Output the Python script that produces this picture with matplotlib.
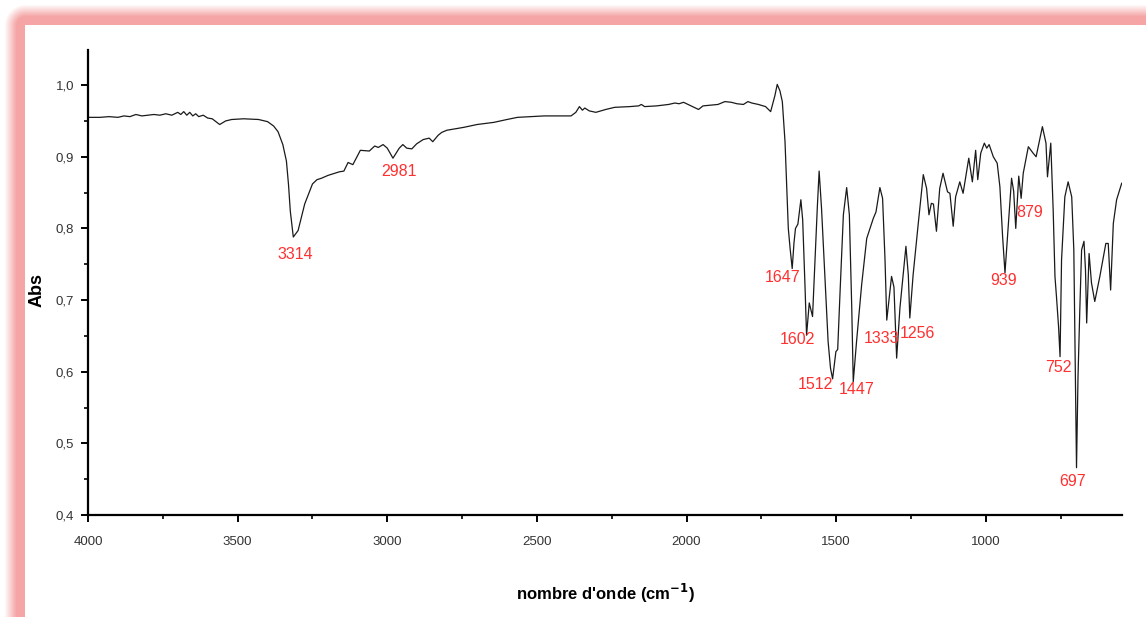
import numpy as np
import matplotlib
matplotlib.use("Agg")
import matplotlib.pyplot as plt
from matplotlib.ticker import MultipleLocator, FuncFormatter

# Spectre IR (Abs en fonction du nombre d'onde)
wavenumber = [
    4000, 3960, 3930, 3900, 3880, 3860, 3840, 3820, 3800, 3780, 3760, 3740,
    3720, 3700, 3690, 3680, 3670, 3660, 3650, 3640, 3630, 3615, 3600, 3585,
    3560, 3540, 3520, 3480, 3430, 3400, 3380, 3365, 3349, 3337, 3330, 3324,
    3314, 3298, 3276, 3250, 3235, 3220, 3198, 3160, 3145, 3131, 3115, 3090,
    3060, 3042, 3030, 3014, 3000, 2981, 2960, 2948, 2935, 2918, 2902, 2880,
    2860, 2848, 2830, 2818, 2801, 2745, 2700, 2644, 2600, 2565, 2476, 2386,
    2370, 2358, 2348, 2340, 2325, 2303, 2270, 2240, 2190, 2160, 2151, 2140,
    2100, 2060, 2039, 2025, 2010, 1990, 1960, 1945, 1920, 1895, 1872, 1850,
    1832, 1810, 1795, 1782, 1760, 1736, 1719, 1705, 1697, 1688, 1680, 1671,
    1666, 1660, 1654, 1647, 1641, 1636, 1628, 1618, 1612, 1604, 1599, 1590,
    1579, 1571, 1563, 1557, 1549, 1538, 1527, 1519, 1512, 1501, 1495, 1487,
    1476, 1465, 1456, 1448, 1443, 1432, 1415, 1398, 1376, 1367, 1354, 1345,
    1337, 1331, 1315, 1307, 1298, 1287, 1267, 1259, 1254, 1243, 1225, 1209,
    1198, 1190, 1182, 1175, 1165, 1154, 1143, 1128, 1120, 1109, 1101, 1087,
    1076, 1057, 1045, 1034, 1027, 1017, 1005, 997, 989, 975, 962, 953,
    944, 936, 925, 914, 907, 900, 890, 882, 875, 858, 842, 832,
    811, 799, 794, 783, 775, 769, 764, 757, 752, 747, 736, 725,
    713, 706, 702, 697, 692, 686, 680, 672, 667, 663, 655, 647,
    636, 619, 599, 591, 583, 574, 563, 546,
]
absorbance = [
    0.955, 0.955, 0.956, 0.955, 0.957, 0.956, 0.959, 0.957, 0.958, 0.959, 0.958, 0.960,
    0.958, 0.962, 0.959, 0.963, 0.958, 0.962, 0.957, 0.960, 0.956, 0.958, 0.954, 0.953,
    0.945, 0.950, 0.952, 0.953, 0.952, 0.949, 0.943, 0.935, 0.917, 0.894, 0.861, 0.824,
    0.788, 0.797, 0.834, 0.862, 0.868, 0.870, 0.874, 0.879, 0.880, 0.892, 0.889, 0.909,
    0.908, 0.915, 0.913, 0.917, 0.912, 0.898, 0.912, 0.917, 0.912, 0.911, 0.918, 0.924,
    0.926, 0.921, 0.930, 0.934, 0.937, 0.941, 0.945, 0.948, 0.952, 0.955, 0.957, 0.957,
    0.962, 0.970, 0.965, 0.968, 0.964, 0.962, 0.966, 0.969, 0.970, 0.971, 0.973, 0.970,
    0.971, 0.973, 0.975, 0.974, 0.976, 0.972, 0.966, 0.971, 0.972, 0.973, 0.977, 0.976,
    0.974, 0.973, 0.977, 0.975, 0.973, 0.970, 0.963, 0.985, 1.001, 0.992, 0.977, 0.921,
    0.865, 0.800, 0.772, 0.744, 0.780, 0.800, 0.806, 0.840, 0.812, 0.717, 0.651, 0.696,
    0.677, 0.754, 0.830, 0.880, 0.828, 0.735, 0.642, 0.605, 0.590, 0.628, 0.631, 0.712,
    0.819, 0.857, 0.819, 0.689, 0.586, 0.642, 0.721, 0.786, 0.814, 0.823, 0.857, 0.842,
    0.758, 0.672, 0.733, 0.718, 0.619, 0.689, 0.775, 0.735, 0.675, 0.735, 0.810, 0.875,
    0.856, 0.819, 0.835, 0.834, 0.796, 0.856, 0.877, 0.851, 0.849, 0.803, 0.844, 0.865,
    0.849, 0.898, 0.865, 0.909, 0.868, 0.905, 0.919, 0.912, 0.917, 0.900, 0.891, 0.858,
    0.789, 0.738, 0.803, 0.870, 0.852, 0.800, 0.873, 0.842, 0.877, 0.914, 0.905, 0.900,
    0.942, 0.919, 0.872, 0.919, 0.826, 0.733, 0.705, 0.663, 0.621, 0.756, 0.844, 0.865,
    0.844, 0.770, 0.640, 0.466, 0.593, 0.686, 0.770, 0.782, 0.742, 0.668, 0.765, 0.724,
    0.698, 0.733, 0.779, 0.779, 0.714, 0.807, 0.840, 0.863,
]

# Annotations des pics (texte, position du texte)
peak_labels = ["3314", "2981", "1647", "1602", "1512", "1447",
               "1333", "1256", "939", "879", "752", "697"]
label_x = [3308, 2961, 1678, 1628, 1568, 1431, 1347, 1227, 940, 853, 756, 710]
label_y = [0.764, 0.879, 0.731, 0.645, 0.582, 0.575, 0.647, 0.654, 0.727, 0.822, 0.606, 0.447]

plt.rcParams["font.family"] = ["Liberation Sans", "DejaVu Sans"]

W, H = 1146, 617
fig = plt.figure(figsize=(W / 100, H / 100), dpi=100, facecolor="white")

# cadre rose flou (haut et gauche)
yy, xx = np.mgrid[0:H, 0:W]
dx = np.clip(25 - xx, 0, None)
dy = np.clip(25 - yy, 0, None)
dist = np.sqrt(dx ** 2 + dy ** 2)
alpha = np.clip((21 - dist) / 12.0, 0, 1) * ((xx < 25) | (yy < 25))
border = np.zeros((H, W, 4))
border[..., 0] = 245 / 255
border[..., 1] = 165 / 255
border[..., 2] = 165 / 255
border[..., 3] = alpha
fig.figimage(border, xo=0, yo=0, origin="upper", zorder=0)

ax = fig.add_axes([88 / W, 1 - 515 / H, (1122 - 88) / W, (515 - 50) / H])
ax.plot(wavenumber, absorbance, color="#1a1a1a", linewidth=0.9)

ax.set_xlim(4000, 545)
ax.set_ylim(0.4, 1.049)

for s in ["top", "right"]:
    ax.spines[s].set_visible(False)
for s in ["left", "bottom"]:
    ax.spines[s].set_linewidth(1.6)

ax.xaxis.set_major_locator(MultipleLocator(500))
ax.xaxis.set_minor_locator(MultipleLocator(250))
ax.yaxis.set_major_locator(MultipleLocator(0.1))
ax.yaxis.set_minor_locator(MultipleLocator(0.05))
ax.yaxis.set_major_formatter(FuncFormatter(lambda v, p: f"{v:.1f}".replace(".", ",")))

ax.tick_params(which="major", direction="out", length=5, width=1.4, labelsize=9.5,
               labelcolor="#333333")
ax.tick_params(which="minor", direction="out", length=3, width=1.2)
ax.tick_params(axis="x", which="major", pad=10)
ax.tick_params(axis="y", which="major", pad=5)

for txt, x, y in zip(peak_labels, label_x, label_y):
    ax.text(x, y, txt, color="#ff3030", fontsize=11.5, ha="center", va="center")

ax.set_ylabel("Abs", fontsize=13, fontweight="bold")
ax.yaxis.set_label_coords(-0.041, 0.484)
ax.set_xlabel(r"nombre d'onde (cm$^{\mathbf{-1}}$)", fontsize=12, fontweight="bold")
ax.xaxis.set_label_coords(0.5, -0.143)

fig.savefig("out.png", dpi=100, facecolor="white")
